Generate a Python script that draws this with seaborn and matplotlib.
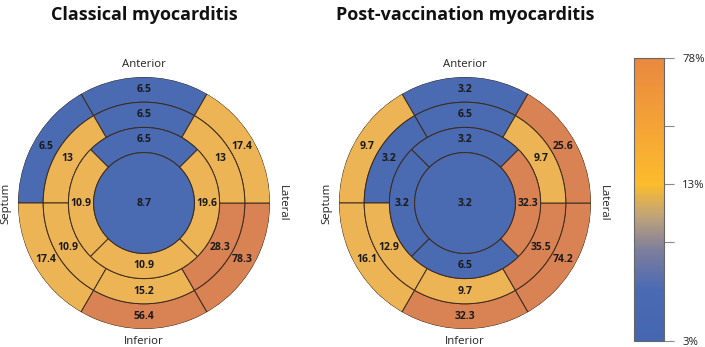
import numpy as np
import matplotlib
matplotlib.use("Agg")
import matplotlib.pyplot as plt
import seaborn as sns
from matplotlib.colors import LinearSegmentedColormap, Normalize
from matplotlib.cm import ScalarMappable

sns.set_theme(style="white")
plt.rcParams['font.family'] = ['Open Sans', 'DejaVu Sans']

# ---------------- data ----------------
titles = ["Classical myocarditis", "Post-vaccination myocarditis"]

# basal ring, order: anterior, anteroseptal, inferoseptal, inferior, inferolateral, anterolateral
classical_basal = [6.5, 6.5, 17.4, 56.4, 78.3, 17.4]
classical_mid = [6.5, 13, 10.9, 15.2, 28.3, 13]
# apical ring, order: anterior, septal, inferior, lateral
classical_apical = [6.5, 10.9, 10.9, 19.6]
classical_apex = [8.7]

vaccine_basal = [3.2, 9.7, 16.1, 32.3, 74.2, 25.6]
vaccine_mid = [6.5, 3.2, 12.9, 9.7, 35.5, 9.7]
vaccine_apical = [3.2, 3.2, 6.5, 32.3]
vaccine_apex = [3.2]

wall_labels = ["Anterior", "Septum", "Inferior", "Lateral"]
cbar_ticks = [0.0, 0.349, 0.554, 0.76, 1.0]
cbar_ticklabels = ["3%", "", "13%", "", "78%"]

# ---------------- style ----------------
BLUE = "#4a6ab2"
YELLOW = "#ecb455"
ORANGE = "#d98254"
EDGE = "#3b2a1c"


def seg_color(v):
    if v < 9:
        return BLUE
    if v < 25:
        return YELLOW
    return ORANGE


def fmt(v):
    return ("%g" % v)


fig = plt.figure(figsize=(7.05, 3.47), dpi=100)

datasets = [
    (classical_basal, classical_mid, classical_apical, classical_apex),
    (vaccine_basal, vaccine_mid, vaccine_apical, vaccine_apex),
]
centers_px = [(144, 203), (465, 203)]
R = 126
VFS = 7.5

for (basal, mid, apical, apex), (cx, cy), title in zip(datasets, centers_px, titles):
    ax = fig.add_axes([(cx - R) / 705, (347 - cy - R) / 347, 2 * R / 705, 2 * R / 347],
                      projection="polar")
    ax.set_theta_zero_location("E")
    ax.set_theta_direction(1)
    ax.set_ylim(0, 1)
    ax.axis("off")

    # rings of six segments (basal r 0.8-1.0, mid r 0.6-0.8)
    th6 = np.deg2rad(np.arange(6) * 60 + 90)
    for vals, r0 in ((basal, 0.8), (mid, 0.6)):
        ax.bar(th6, 0.2, width=np.deg2rad(60), bottom=r0,
               color=[seg_color(v) for v in vals], edgecolor=EDGE, linewidth=0.7)
        for t, v in zip(th6, vals):
            ax.text(t, r0 + 0.1, fmt(v), ha="center", va="center",
                    fontsize=VFS, fontweight="bold", color="#1a1a1a")
    # apical ring of four
    th4 = np.deg2rad(np.arange(4) * 90 + 90)
    ax.bar(th4, 0.2, width=np.deg2rad(90), bottom=0.4,
           color=[seg_color(v) for v in apical], edgecolor=EDGE, linewidth=0.7)
    for t, v in zip(th4, apical):
        ax.text(t, 0.5, fmt(v), ha="center", va="center",
                fontsize=VFS, fontweight="bold", color="#1a1a1a")
    # apex
    ax.bar([0], 0.4, width=2 * np.pi, bottom=0, color=seg_color(apex[0]), linewidth=0)
    tt = np.linspace(0, 2 * np.pi, 361)
    ax.plot(tt, np.full_like(tt, 0.4), color=EDGE, lw=0.7)
    ax.text(0, 0, fmt(apex[0]), ha="center", va="center",
            fontsize=VFS, fontweight="bold", color="#1a1a1a")

    # wall labels
    for t, lab, rot in zip([90, 180, 270, 0], wall_labels, [0, 90, 0, 270]):
        ax.text(np.deg2rad(t), 1.1, lab, ha="center", va="center", rotation=rot,
                fontsize=8.2, color="#222222", clip_on=False)

    fig.text(cx / 705, 1 - 15 / 347, title, ha="center", va="center",
             fontsize=13, fontweight="bold", color="#111111")

# colorbar
cmap = LinearSegmentedColormap.from_list(
    "myo",
    [(0.0, "#4566b0"), (0.18, "#4a6ab3"), (0.32, "#7d7e9c"), (0.44, "#bfa37a"),
     (0.554, "#fcbc2c"), (0.78, "#f3a137"), (1.0, "#e9883f")])
cax = fig.add_axes([634 / 705, 6 / 347, 30 / 705, 283 / 347])
sm = ScalarMappable(norm=Normalize(0, 1), cmap=cmap)
cb = fig.colorbar(sm, cax=cax, ticks=cbar_ticks)
cb.set_ticklabels(cbar_ticklabels)
cb.outline.set_edgecolor("#666666")
cb.outline.set_linewidth(0.8)
cax.tick_params(axis="y", length=7, width=0.8, color="#888888", labelsize=8.2,
                labelcolor="#222222", pad=6, right=True)

fig.savefig("out.png", dpi=100)
